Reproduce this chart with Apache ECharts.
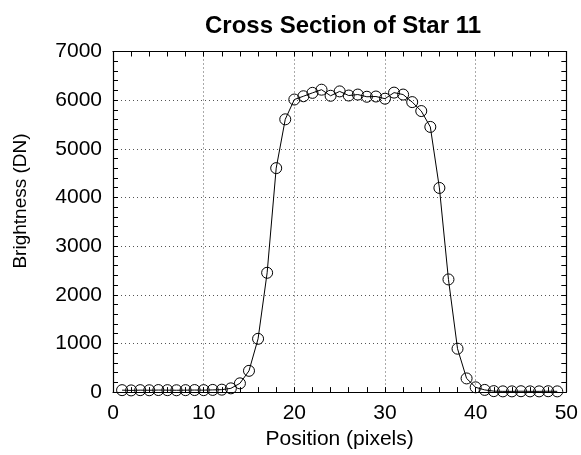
<!DOCTYPE html>
<html>
<head>
<meta charset="utf-8">
<script src="https://cdn.jsdelivr.net/npm/echarts@6/dist/echarts.min.js"></script>
<style>
html,body{margin:0;padding:0;background:#fff;}
#chart{width:581px;height:455px;}
</style>
</head>
<body>
<div id="chart"></div>
<script>
var titleText = 'Cross Section of Star 11';
var xAxisName = 'Position (pixels)';
var yAxisName = 'Brightness (DN)';
var positions = [1,2,3,4,5,6,7,8,9,10,11,12,13,14,15,16,17,18,19,20,21,22,23,24,25,26,27,28,29,30,31,32,33,34,35,36,37,38,39,40,41,42,43,44,45,46,47,48,49];
var brightness = [40,35,40,38,42,40,38,40,42,40,45,50,77,180,437,1095,2452,4603,5606,6013,6080,6150,6215,6090,6180,6095,6115,6070,6075,6030,6155,6115,5960,5776,5450,4196,2316,892,281,98,45,20,15,15,18,15,15,18,15];
var xTicks = [0,10,20,30,40,50];
var yTicks = [0,1000,2000,3000,4000,5000,6000,7000];

var FONT = 'Liberation Sans, Arial, Helvetica, sans-serif';
var data = positions.map(function(p,i){return [p, brightness[i]];});

var chart = echarts.init(document.getElementById('chart'), null, {renderer:'canvas'});
var tickCommon = {show:true, inside:true, length:5, lineStyle:{color:'#000', width:1}};
var minorCommon = {show:true, splitNumber:5, length:5, lineStyle:{color:'#000', width:1}};
function plain(v){ return String(v); }
chart.setOption({
  animation:false,
  backgroundColor:'#fff',
  title:{
    text:titleText, left:338, top:9, textAlign:'center',
    textStyle:{fontFamily:FONT, fontSize:24, fontWeight:'bold', color:'#000'}
  },
  grid:{left:113, right:10.5, top:51.5, bottom:59.5, containLabel:false},
  xAxis:[{
    type:'value', position:'bottom', min:xTicks[0], max:xTicks[xTicks.length-1], interval:10,
    name:xAxisName, nameLocation:'middle', nameGap:36,
    nameTextStyle:{fontFamily:FONT, fontSize:21, color:'#000'},
    axisLine:{show:true, onZero:false, lineStyle:{color:'#000', width:1.2}},
    axisTick:tickCommon, minorTick:minorCommon,
    axisLabel:{fontFamily:FONT, fontSize:21, color:'#000', margin:11, formatter:plain},
    splitLine:{show:true, lineStyle:{color:'#555', type:[1,3], width:1}}
  },{
    type:'value', position:'top', min:xTicks[0], max:xTicks[xTicks.length-1], interval:10,
    axisLine:{show:true, onZero:false, lineStyle:{color:'#000', width:1.2}},
    axisTick:tickCommon, minorTick:minorCommon,
    axisLabel:{show:false}, splitLine:{show:false}
  }],
  yAxis:[{
    type:'value', position:'left', min:yTicks[0], max:yTicks[yTicks.length-1], interval:1000,
    axisLine:{show:true, onZero:false, lineStyle:{color:'#000', width:1.2}},
    axisTick:tickCommon, minorTick:minorCommon,
    axisLabel:{fontFamily:FONT, fontSize:21, color:'#000', margin:11, formatter:plain},
    splitLine:{show:true, lineStyle:{color:'#555', type:[1,3], width:1}}
  },{
    type:'value', position:'right', min:yTicks[0], max:yTicks[yTicks.length-1], interval:1000,
    axisLine:{show:true, onZero:false, lineStyle:{color:'#000', width:1.2}},
    axisTick:tickCommon, minorTick:minorCommon,
    axisLabel:{show:false}, splitLine:{show:false}
  }],
  graphic:[{
    type:'text', x:21, y:201, rotation:Math.PI/2,
    style:{text:yAxisName, fontFamily:FONT, fontSize:19, fill:'#000', textAlign:'center', textVerticalAlign:'middle'}
  }],
  series:[{
    type:'line', xAxisIndex:0, yAxisIndex:0, data:data,
    symbol:'circle', symbolSize:11,
    lineStyle:{color:'#000', width:1},
    itemStyle:{color:'rgba(0,0,0,0)', borderColor:'#000', borderWidth:1},
    z:3
  }]
});
</script>
</body>
</html>
